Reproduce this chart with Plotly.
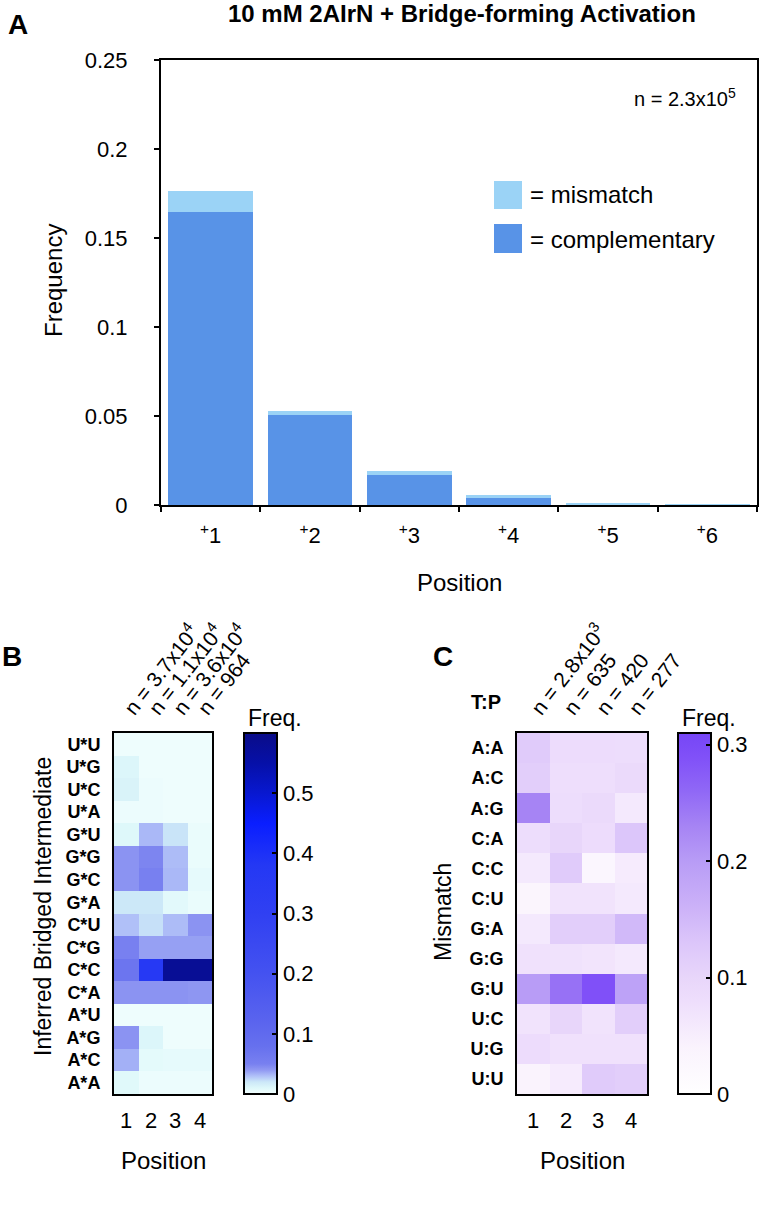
import plotly.graph_objects as go

W, H = 760, 1206
FONT = "Liberation Sans, Arial, Helvetica, sans-serif"

# ---------------- Panel A data ----------------
positions = ["+1", "+2", "+3", "+4", "+5", "+6"]
position_labels = ["<sup>+</sup>1", "<sup>+</sup>2", "<sup>+</sup>3",
                   "<sup>+</sup>4", "<sup>+</sup>5", "<sup>+</sup>6"]
complementary = [0.1646, 0.0506, 0.0169, 0.0041, 0.0004, 0.00005]
mismatch = [0.0120, 0.0020, 0.0020, 0.0014, 0.0010, 0.00005]
freq_ticks = [0, 0.05, 0.1, 0.15, 0.2, 0.25]
freq_tick_labels = ["0", "0.05", "0.1", "0.15", "0.2", "0.25"]

# ---------------- Panel B data ----------------
b_rows = ["U*U", "U*G", "U*C", "U*A", "G*U", "G*G", "G*C", "G*A",
          "C*U", "C*G", "C*C", "C*A", "A*U", "A*G", "A*C", "A*A"]
b_cols = ["1", "2", "3", "4"]
b_counts = ["n = 3.7x10<sup>4</sup>", "n = 1.1x10<sup>4</sup>",
            "n = 3.6x10<sup>4</sup>", "n = 964"]
b_values = [
    [0.002, 0.002, 0.002, 0.002],
    [0.011, 0.002, 0.002, 0.002],
    [0.013, 0.003, 0.002, 0.002],
    [0.003, 0.003, 0.002, 0.002],
    [0.010, 0.032, 0.021, 0.004],
    [0.042, 0.048, 0.031, 0.004],
    [0.042, 0.050, 0.032, 0.006],
    [0.020, 0.020, 0.008, 0.004],
    [0.030, 0.022, 0.031, 0.042],
    [0.050, 0.038, 0.038, 0.038],
    [0.070, 0.370, 0.580, 0.580],
    [0.042, 0.042, 0.042, 0.041],
    [0.002, 0.002, 0.002, 0.002],
    [0.042, 0.011, 0.002, 0.002],
    [0.034, 0.007, 0.006, 0.006],
    [0.009, 0.003, 0.003, 0.003],
]
b_ticks = [0, 0.1, 0.2, 0.3, 0.4, 0.5]

# ---------------- Panel C data ----------------
c_rows = ["A:A", "A:C", "A:G", "C:A", "C:C", "C:U",
          "G:A", "G:G", "G:U", "U:C", "U:G", "U:U"]
c_cols = ["1", "2", "3", "4"]
c_counts = ["n = 2.8x10<sup>3</sup>", "n = 635", "n = 420", "n = 277"]
c_values = [
    [0.120, 0.085, 0.085, 0.082],
    [0.115, 0.080, 0.080, 0.090],
    [0.230, 0.082, 0.090, 0.060],
    [0.082, 0.100, 0.085, 0.130],
    [0.060, 0.120, 0.030, 0.055],
    [0.035, 0.070, 0.070, 0.060],
    [0.060, 0.115, 0.115, 0.150],
    [0.075, 0.072, 0.068, 0.060],
    [0.200, 0.250, 0.290, 0.190],
    [0.070, 0.100, 0.070, 0.115],
    [0.085, 0.075, 0.075, 0.075],
    [0.040, 0.055, 0.120, 0.115],
]
c_ticks = [0, 0.1, 0.2, 0.3]

B_MAX, C_MAX = 0.6, 0.31
b_stops = [(0.0, "#F2FEFE"), (0.01, "#DEF8FA"), (0.02, "#CCE8F8"),
           (0.03, "#B0C0F8"), (0.04, "#9098F2"), (0.05, "#7880F0"),
           (0.08, "#6670EE"), (0.12, "#5A64EE"), (0.2, "#4452F0"),
           (0.3, "#3040F2"), (0.38, "#2438F4"), (0.45, "#0A1EFF"),
           (0.5, "#0818D0"), (0.55, "#0610A8"), (0.6, "#0A0C88")]
c_stops = [(0.0, "#FFFFFF"), (0.04, "#FAF3FD"), (0.08, "#EEDEFC"),
           (0.1, "#E8D6FA"), (0.13, "#DCC6FA"), (0.16, "#CCB2F8"),
           (0.2, "#B89CF6"), (0.23, "#A684F4"), (0.26, "#9068F6"),
           (0.29, "#8050F8"), (0.31, "#7646F6")]

# heatmap / colorbar geometry (pixels)
HM_TOP, HM_BOT = 733, 1094
CB_B_X, CB_C_X, CB_W = 244, 678, 33


def px_x(v):
    return v / W


def px_y(v):
    return 1 - v / H


fig = go.Figure()

# ---------------- Panel A ----------------
fig.add_trace(go.Bar(x=positions, y=complementary, name="complementary",
                     marker=dict(color="#5893E7", line=dict(width=0)),
                     xaxis="x", yaxis="y", showlegend=False))
fig.add_trace(go.Bar(x=positions, y=mismatch, name="mismatch",
                     marker=dict(color="#9BD3F6", line=dict(width=0)),
                     xaxis="x", yaxis="y", showlegend=False))

# ---------------- Panel B ----------------
fig.add_trace(go.Heatmap(z=b_values, x=b_cols, y=b_rows, coloraxis="coloraxis",
                         xaxis="x2", yaxis="y2", xgap=0, ygap=0))
# ---------------- Panel C ----------------
fig.add_trace(go.Heatmap(z=c_values, x=c_cols, y=c_rows, coloraxis="coloraxis2",
                         xaxis="x3", yaxis="y3", xgap=0, ygap=0))

axis_line = dict(showline=True, linecolor="black", linewidth=2, mirror=True,
                 showgrid=False, zeroline=False, automargin=False)
bold_font = dict(size=18, family="Liberation Sans, Arial", weight="bold")


def colorbar(x_px, ticks):
    return dict(x=px_x(x_px), xanchor="left", xref="paper", xpad=0,
                y=px_y(HM_BOT), yanchor="bottom", ypad=0,
                len=HM_BOT - HM_TOP, lenmode="pixels",
                thickness=CB_W, thicknessmode="pixels",
                outlinewidth=2, outlinecolor="black",
                tickvals=ticks, ticks="inside", ticklen=6, tickwidth=2,
                tickcolor="black", tickfont=dict(size=22))


fig.update_layout(
    width=W, height=H, margin=dict(l=0, r=0, t=0, b=0, pad=0, autoexpand=False),
    paper_bgcolor="white", plot_bgcolor="white",
    font=dict(family=FONT, color="black"),
    barmode="stack", bargap=0.15,
    xaxis=dict(domain=[px_x(161), px_x(757)], anchor="y", type="category",
               tickvals=positions, ticktext=position_labels,
               tickson="boundaries", ticks="outside", ticklen=5, tickwidth=2,
               tickcolor="black", tickfont=dict(size=22), ticklabelstandoff=10,
               **axis_line),
    yaxis=dict(domain=[px_y(505), px_y(60)], anchor="x", range=[0, 0.25],
               tickvals=freq_ticks, ticktext=freq_tick_labels,
               ticks="outside", ticklen=5, tickwidth=2, tickcolor="black",
               tickfont=dict(size=22), ticklabelstandoff=22,
               **axis_line),
    xaxis2=dict(domain=[px_x(114), px_x(212)], anchor="y2", side="top",
                type="category", tickvals=b_cols, ticktext=b_counts, tickangle=-52,
                tickfont=dict(size=21), ticks="", ticklabelstandoff=2,
                **axis_line),
    yaxis2=dict(domain=[px_y(HM_BOT), px_y(HM_TOP)], anchor="x2", type="category",
                autorange="reversed", tickfont=bold_font,
                ticks="", ticklabelstandoff=8, **axis_line),
    xaxis3=dict(domain=[px_x(517), px_x(647)], anchor="y3", side="top",
                type="category", tickvals=c_cols, ticktext=c_counts, tickangle=-52,
                tickfont=dict(size=21), ticks="", ticklabelstandoff=2,
                **axis_line),
    yaxis3=dict(domain=[px_y(HM_BOT), px_y(HM_TOP)], anchor="x3", type="category",
                autorange="reversed", tickfont=bold_font,
                ticks="", ticklabelstandoff=8, **axis_line),
    coloraxis=dict(cmin=0, cmax=B_MAX,
                   colorscale=[[v / B_MAX, c] for v, c in b_stops],
                   colorbar=colorbar(CB_B_X, b_ticks)),
    coloraxis2=dict(cmin=0, cmax=C_MAX,
                    colorscale=[[v / C_MAX, c] for v, c in c_stops],
                    colorbar=colorbar(CB_C_X, c_ticks)),
)

ann = []


def text(x, y, s, size, bold=False, angle=0, xanchor="center", yanchor="middle"):
    ann.append(dict(x=px_x(x), y=px_y(y), xref="paper", yref="paper", text=s,
                    showarrow=False, textangle=angle, xanchor=xanchor, yanchor=yanchor,
                    font=dict(size=size, family=FONT, color="black",
                              weight="bold" if bold else "normal")))


# titles and panel labels
text(462, 14, "10 mM 2AIrN + Bridge-forming Activation", 24, bold=True)
text(18, 24, "A", 28, bold=True)
text(12, 656, "B", 28, bold=True)
text(443, 656, "C", 28, bold=True)
# panel A texts
text(53, 280, "Frequency", 24, angle=-90)
text(459, 582, "Position", 24)
text(738, 98, "n = 2.3x10<sup>5</sup>", 20, xanchor="right")
text(528, 195, "= mismatch", 24, xanchor="left")
text(528, 239, "= complementary", 24, xanchor="left")
# panel B texts
text(43, 907, "Inferred Bridged Intermediate", 23, angle=-90)
text(163, 1160, "Position", 24)
text(246, 718, "Freq.", 23, xanchor="left")
# panel C texts
text(443, 912, "Mismatch", 23, angle=-90)
text(486, 702, "T:P", 20, bold=True)
text(582, 1160, "Position", 24)
text(680, 718, "Freq.", 23, xanchor="left")
# bottom column labels for the heatmaps
for xa, cols in (("x2", b_cols), ("x3", c_cols)):
    for i, c in enumerate(cols):
        ann.append(dict(x=i, y=px_y(HM_BOT + 12), xref=xa, yref="paper", text=c,
                        yanchor="top", showarrow=False,
                        font=dict(size=22, family=FONT, color="black")))

fig.update_layout(annotations=ann)

# legend swatches
fig.add_shape(type="rect", xref="paper", yref="paper",
              x0=px_x(494), x1=px_x(522), y0=px_y(209), y1=px_y(181),
              fillcolor="#9BD3F6", line=dict(width=0))
fig.add_shape(type="rect", xref="paper", yref="paper",
              x0=px_x(494), x1=px_x(522), y0=px_y(253), y1=px_y(224),
              fillcolor="#5893E7", line=dict(width=0))

fig.write_html("out.html", config={"displayModeBar": False},
               post_script="document.body.style.margin='0';"
                           "document.body.style.overflow='hidden';")
